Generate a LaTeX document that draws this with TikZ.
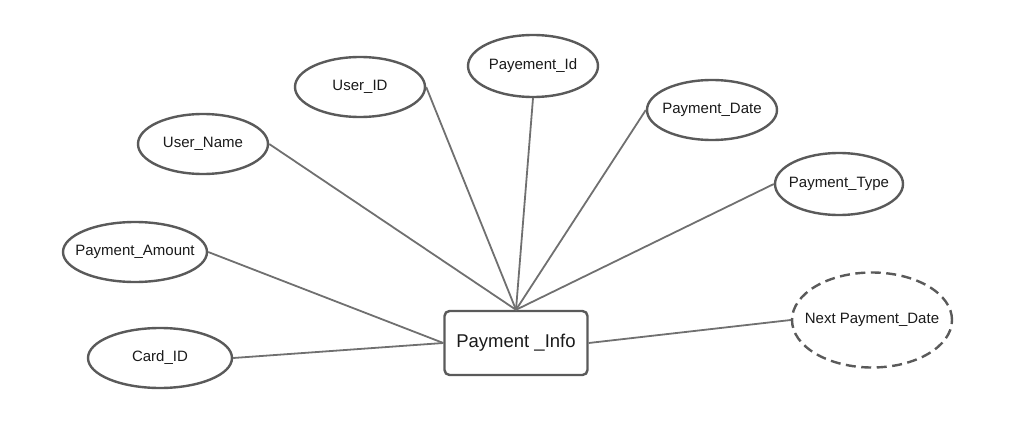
\documentclass[tikz,border=0pt]{standalone}
\usepackage{fontspec}
\setmainfont{Liberation Sans}
\usetikzlibrary{shapes.geometric}
\definecolor{ink}{HTML}{1A1A1A}
\definecolor{edge}{HTML}{5A5A5A}
\definecolor{wire}{HTML}{707070}
\tikzset{
  attr/.style={ellipse, draw=edge, line width=2.4pt, fill=white, inner sep=0pt,
    minimum width=#1, minimum height=60pt, text=ink, font=\fontsize{15}{18}\selectfont},
  attr/.default=130pt,
  derived/.style={attr=#1, dash pattern=on 10pt off 5.5pt},
  entity/.style={rectangle, rounded corners=5pt, draw=edge, line width=2.4pt, fill=white,
    minimum width=143pt, minimum height=64pt, text=ink, font=\fontsize{18.5}{22}\selectfont},
  link/.style={draw=wire, line width=1.8pt},
}
\begin{document}
\begin{tikzpicture}[x=1pt,y=-1pt]
  \useasboundingbox (0,0) rectangle (1020,428);
  % entity in the middle, attributes around it
  \node[entity] (info) at (516,343) {Payment \_Info};
  \node[attr] (uname) at (203,144) {\makebox[0pt]{User\_Name}};
  \node[attr] (uid) at (360,87) {\makebox[0pt]{User\_ID}};
  \node[attr, minimum height=62pt] (payid) at (533,66) {\makebox[0pt]{Payement\_Id}};
  \node[attr] (pdate) at (712,110) {\makebox[0pt]{Payment\_Date}};
  \node[attr=128pt, minimum height=62pt] (ptype) at (839,184) {\makebox[0pt]{Payment\_Type}};
  \node[attr=144pt] (pamount) at (135,252) {\makebox[0pt]{Payment\_Amount}};
  \node[attr=144pt] (cardid) at (160,358) {\makebox[0pt]{Card\_ID}};
  \node[derived=160pt, minimum height=95pt] (nextdate) at (872,320) {\makebox[0pt]{Next Payment\_Date}};
  % connectors
  \foreach \a/\b in {uname.east/info.north, uid.east/info.north, payid.south/info.north,
    pdate.west/info.north, ptype.west/info.north, pamount.east/info.west,
    cardid.east/info.west, info.east/nextdate.west}
    \draw[link] (\a) -- (\b);
\end{tikzpicture}
\end{document}
